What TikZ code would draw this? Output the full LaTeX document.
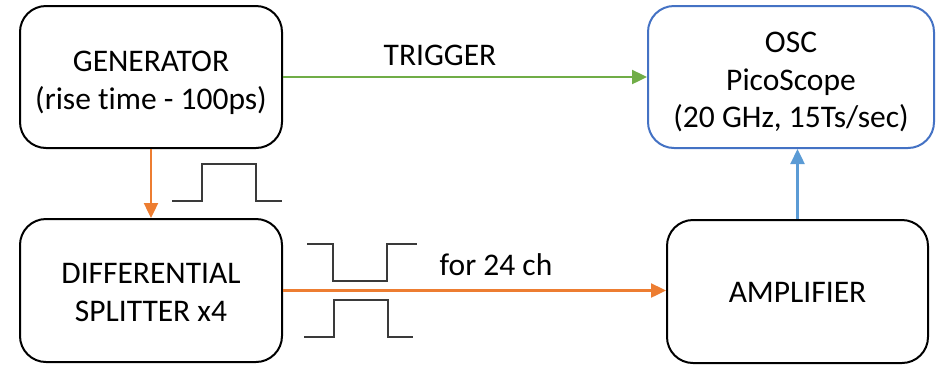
\documentclass[tikz,border=0pt]{standalone}
\usepackage{fontspec}
\setmainfont{Carlito}[Ligatures=NoCommon]
\usetikzlibrary{arrows.meta}
\definecolor{cblack}{HTML}{000000}
\definecolor{cblue}{HTML}{4472C4}
\definecolor{clblue}{HTML}{5B9BD5}
\definecolor{cgreen}{HTML}{70AD47}
\definecolor{corange}{HTML}{ED7D31}
\definecolor{cpulse}{HTML}{3A3A3A}
\tikzset{
  box/.style={draw=cblack, line width=2pt, rounded corners=26pt, fill=white, inner sep=0pt},
  conn/.style={line width=2.4pt, -{Triangle[length=15pt,width=14pt]}},
  lbl/.style={font=\fontsize{31.5}{37.5}\selectfont, inner sep=0pt, align=center},
  pulse/.style={draw=cpulse, line width=1.3pt}
}
\begin{document}
\begin{tikzpicture}[x=1pt,y=-1pt]
\useasboundingbox (0,0) rectangle (936,365);
\node[box, minimum width=262pt, minimum height=142pt] (gen) at (151,77) {};
\node[box, draw=cblue, minimum width=286pt, minimum height=142pt] (osc) at (791,77) {};
\node[box, minimum width=262pt, minimum height=143pt] (split) at (151,290.5) {};
\node[box, minimum width=261pt, minimum height=143pt] (amp) at (797.5,291.5) {};

\node[lbl] (gent) at ([yshift=-6pt]gen.center) {GENERATOR\\(rise time - 100ps)};
\node[lbl] (osct) at ([yshift=-5pt]osc.center) {OSC\\PicoScope\\(20 GHz, 15Ts/sec)};
\node[lbl] (splitt) at ([yshift=-2pt]split.center) {DIFFERENTIAL\\SPLITTER x4};
\node[lbl] (ampt) at ([yshift=-1pt]amp.center) {AMPLIFIER};

\draw[conn, draw=corange, fill=corange] (gen.south) -- (split.north);
\draw[conn, draw=cgreen, fill=cgreen] (gen.east) -- (gen.east -| osc.west);
\draw[conn, draw=corange, fill=corange] (split.east) -- (split.east -| amp.west);
\draw[conn, draw=clblue, fill=clblue] (amp.north) -- (amp.north |- osc.south);

\node[lbl] (trig) at (440,55) {TRIGGER};
\node[lbl] (ch) at (496,265) {for 24 ch};

\draw[pulse] (172,201) -- (202,201) -- (202,164) -- (256,164) -- (256,201) -- (282,201);
\draw[pulse] (307,244) -- (333,244) -- (333,281) -- (387,281) -- (387,244) -- (417,244);
\draw[pulse] (304,337) -- (334,337) -- (334,300) -- (388,300) -- (388,337) -- (413,337);
\end{tikzpicture}
\end{document}
